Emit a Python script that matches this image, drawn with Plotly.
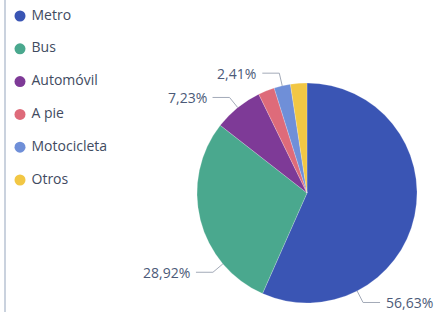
import math
import plotly.graph_objects as go

categories = ["Metro", "Bus", "Automóvil", "A pie", "Motocicleta", "Otros"]
counts = [47, 24, 6, 2, 2, 2]
colors = ["#3A55B4", "#4AA88E", "#7E3A97", "#DE6B7A", "#6F8FD8", "#F2C744"]
# which slices get an outside label, and where along the slice (fraction) the leader starts
label_pos = {"Metro": 0.75, "Bus": 0.25, "Automóvil": 0.5, "Motocicleta": 0.5}

W, H = 437, 312
cx, cy, R = 307, 193, 110
leg_x, leg_y0, leg_dy = 20, 16, 32.8

total = sum(counts)
pct = [c / total * 100 for c in counts]

fig = go.Figure()
fig.add_trace(go.Pie(
    labels=categories, values=counts, sort=False, direction="clockwise", rotation=0,
    marker=dict(colors=colors, line=dict(color="rgba(255,255,255,0.4)", width=0.5)),
    textinfo="none", hoverinfo="label+percent", showlegend=False,
    domain=dict(x=[(cx - R) / W, (cx + R) / W], y=[(H - cy - R) / H, (H - cy + R) / H]),
))

# legend built as a scatter in pixel space
fig.add_trace(go.Scatter(
    x=[leg_x] * len(categories), y=[leg_y0 + leg_dy * i for i in range(len(categories))],
    mode="markers+text", text=[" " + c for c in categories], textposition="middle right",
    marker=dict(color=colors, size=11, symbol="circle"),
    textfont=dict(family="Open Sans", size=14, color="#414B5F"),
    showlegend=False, hoverinfo="text", cliponaxis=False,
))

def px2paper(x, y):
    return x / W, 1 - y / H

shapes = []
annotations = []
start = 0.0
for cat, p in zip(categories, pct):
    span = p / 100 * 360
    if cat in label_pos:
        th = math.radians(start + span * label_pos[cat])
        x0, y0 = cx + R * math.sin(th), cy - R * math.cos(th)
        x1, y1 = cx + (R + 13) * math.sin(th), cy - (R + 13) * math.cos(th)
        right = math.sin(th) > 0
        x2 = x1 + (17 if right else -17)
        pts = [px2paper(x0, y0), px2paper(x1, y1), px2paper(x2, y1)]
        path = "M {} {} L {} {} L {} {}".format(pts[0][0], pts[0][1], pts[1][0], pts[1][1], pts[2][0], pts[2][1])
        shapes.append(dict(type="path", path=path, xref="paper", yref="paper",
                           line=dict(color="#A3AAB8", width=1)))
        tx, ty = px2paper(x2 + (4 if right else -4), y1)
        annotations.append(dict(
            x=tx, y=ty, xref="paper", yref="paper", showarrow=False,
            text=f"{p:.2f}".replace(".", ",") + "%",
            xanchor="left" if right else "right", yanchor="middle",
            font=dict(family="Open Sans", size=14, color="#4C5A78"),
        ))
    start += span

shapes.append(dict(type="line", xref="paper", yref="paper", x0=5 / W, x1=5 / W, y0=0, y1=1,
                   line=dict(color="#B9C3D3", width=1.5)))

fig.update_layout(
    width=W, height=H, margin=dict(l=0, r=0, t=0, b=0, autoexpand=False),
    paper_bgcolor="white", plot_bgcolor="white",
    xaxis=dict(visible=False, range=[0, W], domain=[0, 1], fixedrange=True),
    yaxis=dict(visible=False, range=[H, 0], domain=[0, 1], fixedrange=True),
    shapes=shapes, annotations=annotations, showlegend=False,
)

fig.write_html("out.html", config={"displayModeBar": False},
               post_script="document.body.style.margin='0';document.body.style.overflow='hidden';")
